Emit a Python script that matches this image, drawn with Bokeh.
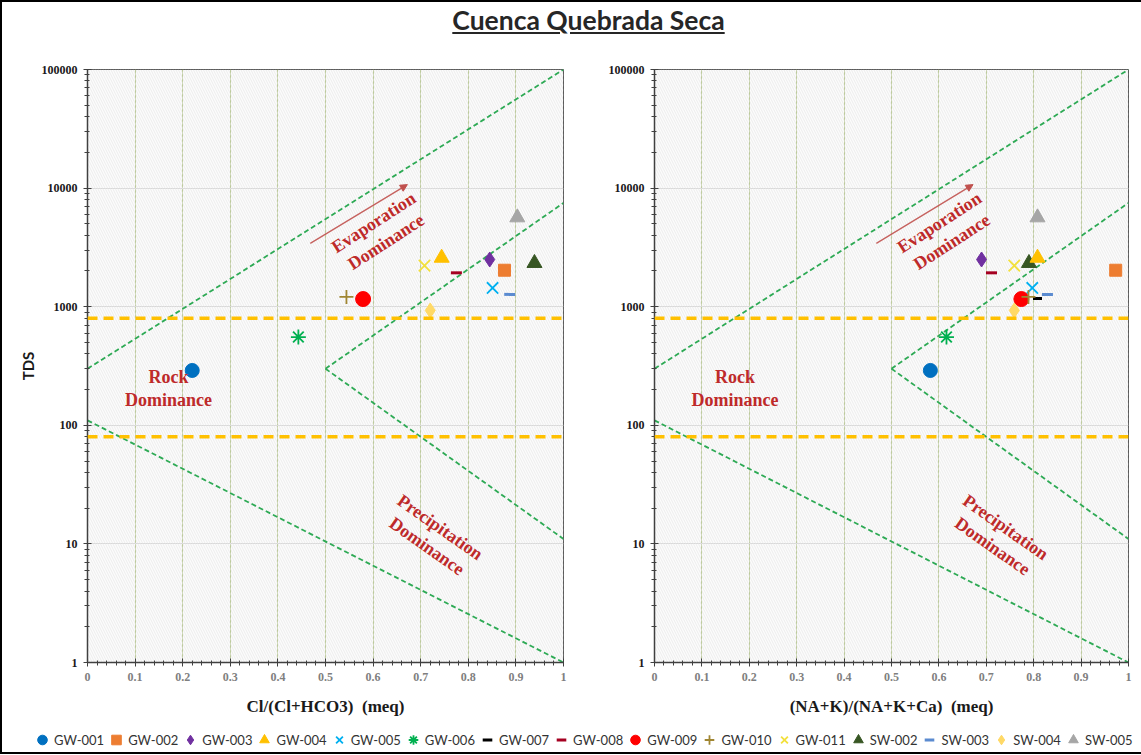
from bokeh.plotting import figure
from bokeh.models import (Div, Legend, LegendItem, Arrow, NormalHead, BoxAnnotation, Span, Label,
                          LogTicker, SingleIntervalTicker, NumeralTickFormatter, Range1d)
from bokeh.layouts import column, row
from bokeh.embed import file_html
from bokeh.resources import INLINE

# ---------------- data ----------------
samples = ["GW-001", "GW-002", "GW-003", "GW-004", "GW-005", "GW-006", "GW-007", "GW-008",
           "GW-009", "GW-010", "GW-011", "SW-002", "SW-003", "SW-004", "SW-005"]
tds = [290, 2030, 2500, 2580, 1440, 555, 1170, 1930, 1160, 1210, 2220, 2330, 1270, 930, 5650]
cl_ratio = [0.220, 0.876, 0.845, 0.744, 0.851, 0.443, 0.578, 0.775, 0.579, 0.544, 0.708,
            0.939, 0.887, 0.720, 0.903]
na_ratio = [0.582, 0.973, 0.690, 0.808, 0.797, 0.616, 0.808, 0.711, 0.774, 0.789, 0.759,
            0.790, 0.829, 0.759, 0.808]
markers = ["circle", "square", "diamond", "triangle", "x", "asterisk", "dash", "dash",
           "circle", "cross", "x", "triangle", "dash", "diamond", "triangle"]
colors = ["#0070C0", "#ED7D31", "#7030A0", "#FFC000", "#00B0F0", "#00B050", "#000000", "#A50021",
          "#FF0000", "#A08632", "#F2E03C", "#375623", "#5B8BD0", "#FFD966", "#A6A6A6"]
sizes = [14, 12, 15, 15, 16, 15, 9, 11, 15, 14, 16, 15, 11, 15, 15]
draw_order = [0, 1, 2, 4, 5, 6, 7, 8, 9, 10, 11, 3, 12, 13, 14]

# Gibbs boundary lines
evap_upper_x, evap_upper_y = [0.0, 1.0], [300, 100000]
evap_lower_x, evap_lower_y = [0.5, 1.0], [300, 7500]
prec_upper_x, prec_upper_y = [0.5, 1.0], [300, 11]
prec_lower_x, prec_lower_y = [0.0, 1.0], [110, 1]
rock_levels = [80, 800]

x_titles = ["Cl/(Cl+HCO3)\u00a0\u00a0(meq)", "(NA+K)/(NA+K+Ca)\u00a0\u00a0(meq)"]
title_text = "Cuenca Quebrada Seca"

LABEL_RED = "#BE2A2A"
SERIF = "Liberation Serif"
FILLED = ("circle", "square", "diamond", "triangle")


def line_w(m):
    if m == "dash":
        return 3
    if m in ("x", "asterisk", "cross"):
        return 1.8
    return 1


def make_panel(xvals, xtitle, show_ylabel, border_left, border_right, frame_w):
    p = figure(y_axis_type="log", x_range=Range1d(0, 1), y_range=Range1d(1, 100000),
               frame_width=frame_w, frame_height=593,
               min_border_left=border_left, min_border_right=border_right,
               min_border_top=23, min_border_bottom=64,
               toolbar_location=None, output_backend="svg",
               background_fill_color="#FCFCFC", border_fill_color="white",
               outline_line_color="#595959", outline_line_width=1)

    p.add_layout(BoxAnnotation(fill_alpha=0, line_color=None, hatch_pattern="\\",
                               hatch_color="#E2E2E2", hatch_scale=5, hatch_weight=0.6,
                               level="underlay"))

    # grid
    p.xgrid.ticker = SingleIntervalTicker(interval=0.1)
    p.xgrid.grid_line_color = "#7F9A3A"
    p.xgrid.grid_line_dash = "1 1"
    p.xgrid.grid_line_width = 1
    p.ygrid.grid_line_color = "#D9D9D9"
    p.ygrid.grid_line_width = 1

    # axes
    p.xaxis.ticker = SingleIntervalTicker(interval=0.1, num_minor_ticks=5)
    p.xaxis.formatter = NumeralTickFormatter(format="0.[0]")
    p.yaxis.ticker = LogTicker(mantissas=[1], desired_num_ticks=6, num_minor_ticks=10)
    p.yaxis.formatter = NumeralTickFormatter(format="0")
    for ax in (p.xaxis, p.yaxis):
        ax.axis_line_color = "#404040"
        ax.axis_line_width = 1.5
        ax.major_tick_line_color = "#404040"
        ax.minor_tick_line_color = "#404040"
        ax.major_tick_in = 4
        ax.major_tick_out = 4
        ax.minor_tick_in = 2
        ax.minor_tick_out = 3
        ax.major_label_text_font = SERIF
        ax.major_label_text_font_style = "bold"
        ax.major_label_text_font_size = "12px"
    p.xaxis.major_label_text_color = "#7F7F7F"
    p.yaxis.major_label_text_color = "#1A1A1A"
    p.xaxis.major_label_standoff = 6
    p.yaxis.major_label_standoff = 6
    p.xaxis.axis_label = xtitle
    p.xaxis.axis_label_text_font = SERIF
    p.xaxis.axis_label_text_font_style = "bold"
    p.xaxis.axis_label_text_font_size = "17px"
    p.xaxis.axis_label_text_color = "#1A1A1A"
    p.xaxis.axis_label_standoff = 13
    if show_ylabel:
        p.yaxis.axis_label = "TDS"
        p.yaxis.axis_label_text_font = "Lato"
        p.yaxis.axis_label_text_font_style = "bold"
        p.yaxis.axis_label_text_font_size = "15px"
        p.yaxis.axis_label_text_color = "#1A1A1A"
        p.yaxis.axis_label_standoff = 2

    # boundary lines
    for bx, by in ((evap_upper_x, evap_upper_y), (evap_lower_x, evap_lower_y),
                   (prec_upper_x, prec_upper_y), (prec_lower_x, prec_lower_y)):
        p.line(bx, by, line_color="#2EAA55", line_width=1.8, line_dash="5 3")
    for lv in rock_levels:
        p.add_layout(Span(location=lv, dimension="width", line_color="#FFC000",
                          line_width=3.5, line_dash="10 6"))

    # annotations
    p.add_layout(Arrow(end=NormalHead(size=7, fill_color="#C0504D", line_color="#C0504D"),
                       x_start=0.468, y_start=3420, x_end=0.672, y_end=10700,
                       line_color="#C0504D", line_width=1.3, line_alpha=0.9))
    common = dict(text_font=SERIF, text_font_style="bold", text_font_size="18px",
                  text_color=LABEL_RED, text_align="center", text_baseline="middle",
                  text_line_height=1.15)
    p.add_layout(Label(x=0.614, y=4250, text="Evaporation\nDominance", angle=33,
                       angle_units="deg", **common))
    p.add_layout(Label(x=0.170, y=205, text="Rock\nDominance", **common))
    p.add_layout(Label(x=0.727, y=11.5, text="Precipitation\nDominance", angle=-35,
                       angle_units="deg", **common))

    # samples
    for i in draw_order:
        fill = colors[i] if markers[i] in FILLED else None
        p.scatter([xvals[i]], [tds[i]], marker=markers[i], size=sizes[i],
                  fill_color=fill, line_color=colors[i], line_width=line_w(markers[i]))
    return p


p1 = make_panel(cl_ratio, x_titles[0], True, 85, 12, 476)
p2 = make_panel(na_ratio, x_titles[1], False, 79, 5, 474)

# legend strip (dummy renderers kept outside the visible range)
pl = figure(width=1139, height=26, x_range=Range1d(10, 11), y_range=Range1d(10, 11),
            toolbar_location=None, output_backend="svg", min_border=0,
            outline_line_color=None)
pl.axis.visible = False
pl.grid.visible = False
items = []
for i in range(len(samples)):
    fill = colors[i] if markers[i] in FILLED else None
    r = pl.scatter([cl_ratio[i]], [tds[i]], marker=markers[i], size=sizes[i],
                   fill_color=fill, line_color=colors[i], line_width=line_w(markers[i]))
    items.append(LegendItem(label=samples[i], renderers=[r]))
leg = Legend(items=items, orientation="horizontal", location=(28, 0),
             label_text_font="Lato", label_text_font_size="13px", label_text_color="#333333",
             glyph_width=24, glyph_height=25, label_standoff=0, spacing=0,
             border_line_color=None, background_fill_alpha=0, padding=0, margin=0)
pl.add_layout(leg, "center")

title = Div(text=('<div style="width:1135px;text-align:center;padding-left:38px;box-sizing:border-box;'
                  'font-family:Lato;font-weight:bold;font-size:26.5px;color:#262626;'
                  'text-decoration:underline;line-height:36px;">' + title_text + '</div>'),
            width=1135, height=44, margin=(0, 0, 0, 0))

layout = column(title, row(p1, p2), pl,
                styles={"border-top": "2px solid black", "border-left": "2px solid black",
                        "border-bottom": "2px solid black"})

open("out.html", "w").write(file_html(layout, INLINE))
